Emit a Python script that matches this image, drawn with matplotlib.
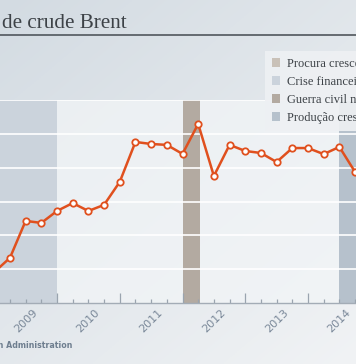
import numpy as np
import matplotlib.pyplot as plt
from matplotlib.patches import Patch

# quarterly Brent price (USD per barrel)
quarters = [2009.0, 2009.25, 2009.5, 2009.75,
            2010.0, 2010.25, 2010.5, 2010.75,
            2011.0, 2011.25, 2011.5, 2011.75,
            2012.0, 2012.25, 2012.5, 2012.75,
            2013.0, 2013.25, 2013.5, 2013.75,
            2014.0, 2014.25, 2014.5, 2014.75]
price = [43.7, 50.0, 66.4, 65.5,
         70.8, 74.3, 70.8, 73.5,
         83.7, 101.4, 100.5, 100.1,
         96.1, 109.4, 86.3, 100.1,
         97.4, 96.5, 92.5, 98.7,
         98.7, 96.0, 99.2, 88.1]

years = [2009, 2010, 2011, 2012, 2013, 2014]

# shaded periods
band_labels = ["Procura crescente", "Crise financeira",
               "Guerra civil na Líbia", "Produção crescente"]
band_start = [2007.5, 2008.6, 2012.0, 2014.5]
band_end = [2008.6, 2010.0, 2012.28, 2015.5]
band_colors = ["#c9c1b8", "#cbd3dc", "#b3aaa1", "#b6c1cc"]

W, H = 356, 364
fig = plt.figure(figsize=(W / 100, H / 100), dpi=100)

# background gradient
bg = fig.add_axes([0, 0, 1, 1], zorder=0)
gy, gx = np.mgrid[0:1:200j, 0:1:200j]
t = np.clip(0.55 * gy + 0.45 * gx, 0, 1)
c0 = np.array([0xd3, 0xdb, 0xe2]) / 255
c1 = np.array([0xf1, 0xf3, 0xf5]) / 255
img = c0[None, None, :] * (1 - t[..., None]) + c1[None, None, :] * t[..., None]
bg.imshow(img, extent=[0, 1, 0, 1], aspect="auto", origin="upper")
bg.set_xlim(0, 1)
bg.set_ylim(0, 1)
bg.axis("off")

# title and rule
fig.text(2 / W, 1 - 28 / H, "de crude Brent", family="Liberation Serif",
         fontsize=15.2, color="#3d4247", ha="left", va="baseline")
bg.axhline(1 - 34.5 / H, color="#5b6167", lw=1.3)

x_left = 2009.0 + 5.75 / 62.75
x_right = x_left + W / 62.75
ax = fig.add_axes([0, (H - 303) / H, 1, 203 / H], zorder=1)
ax.set_facecolor((0.95, 0.96, 0.97, 0.75))

for s, e, c in zip(band_start, band_end, band_colors):
    ax.axvspan(s, e, color=c, lw=0, zorder=0)

ax.set_yticks(np.arange(45, 121, 15))
ax.yaxis.grid(True, color="white", lw=1.2, zorder=1)
ax.tick_params(axis="y", left=False, labelleft=False)

ax.set_xticks(np.arange(2009, 2016))
ax.set_xticks(quarters, minor=True)
ax.set_xlim(x_left, x_right)
ax.set_ylim(30, 120)
ax.tick_params(axis="x", which="major", direction="in", length=7, width=0.9,
               color="#9aa4af", labelbottom=False)
ax.tick_params(axis="x", which="minor", direction="in", length=3, width=0.9,
               color="#9aa4af")
for sp in ["top", "left", "right"]:
    ax.spines[sp].set_visible(False)
ax.spines["bottom"].set_color("#a3acb6")
ax.spines["bottom"].set_linewidth(1.0)

for y in years:
    ax.text(y + 0.5, -0.088, str(y), transform=ax.get_xaxis_transform(),
            rotation=45, ha="center", va="center", fontsize=8,
            color="#7a8899", clip_on=False)

ax.plot(quarters, price, color="#e0501e", lw=1.8, marker="o", ms=4.6,
        mfc="white", mec="#e0501e", mew=1.3, zorder=3, clip_on=False)

handles = [Patch(facecolor=c, edgecolor="none") for c in band_colors]
leg = ax.legend(handles, band_labels, loc="upper left",
                bbox_to_anchor=(265 / W, 1 + 49 / 203), frameon=True,
                prop={"family": "Liberation Serif", "size": 9.0},
                handlelength=0.62, handleheight=0.62, handletextpad=0.58,
                labelspacing=0.48, borderpad=0.55, borderaxespad=0,
                fancybox=False)
leg.get_frame().set_facecolor("#eef0f3")
leg.get_frame().set_alpha(0.92)
leg.get_frame().set_edgecolor("none")
for txt in leg.get_texts():
    txt.set_color("#3d4247")
leg.set_zorder(5)

fig.text(72 / W, 1 - 345 / H, "Fonte: U.S. Energy Information Administration",
         fontsize=5.7, fontweight="bold", color="#6e7e8f",
         ha="right", va="center")

fig.savefig("out.png", dpi=100)
